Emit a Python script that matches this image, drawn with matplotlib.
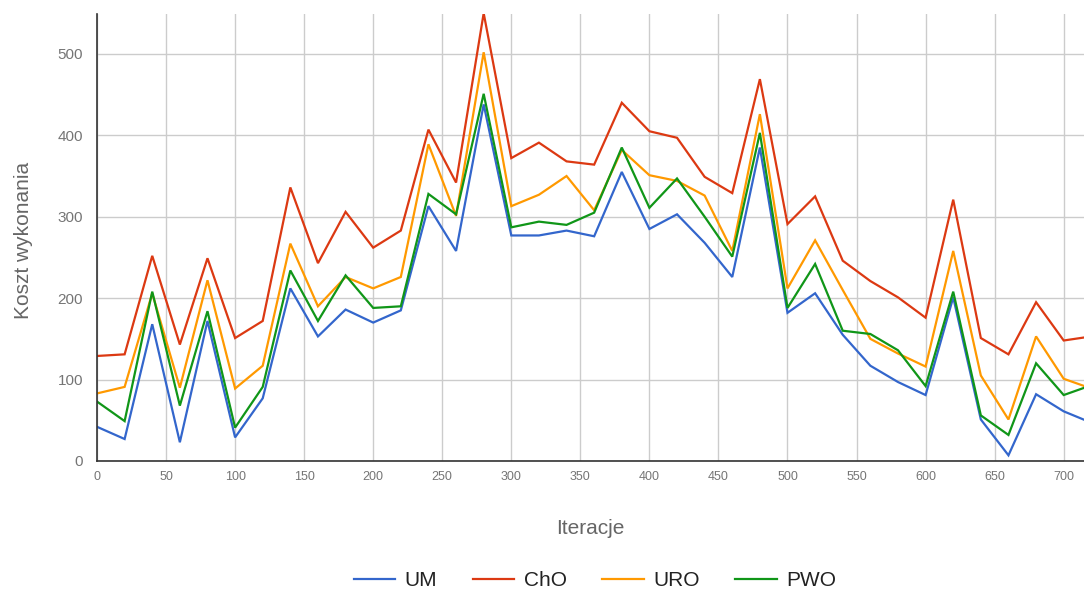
import matplotlib
matplotlib.use("Agg")
import matplotlib.pyplot as plt

plt.rcParams['font.family'] = ['Liberation Sans', 'DejaVu Sans']

iterations = list(range(0, 721, 20))

um = [42, 27, 168, 23, 172, 29, 77, 212, 153, 186, 170, 185, 313,
      258, 438, 277, 277, 283, 276, 355, 285, 303, 268, 226, 385,
      182, 206, 155, 117, 97, 81, 201, 51, 7, 82, 61, 47]
cho = [129, 131, 252, 143, 249, 151, 172, 336, 243, 306, 262, 283, 407,
       342, 550, 372, 391, 368, 364, 440, 405, 397, 349, 329, 469,
       291, 325, 246, 221, 201, 176, 321, 151, 131, 195, 148, 153]
uro = [83, 91, 206, 90, 222, 89, 117, 267, 190, 226, 212, 226, 389,
       301, 502, 313, 327, 350, 308, 382, 351, 344, 326, 258, 426,
       212, 271, 210, 150, 132, 116, 258, 105, 51, 153, 101, 89]
pwo = [73, 49, 208, 68, 184, 41, 91, 234, 172, 228, 188, 190, 328,
       303, 451, 287, 294, 290, 305, 385, 311, 347, 300, 251, 403,
       188, 242, 160, 156, 136, 92, 208, 56, 32, 120, 81, 93]

series = [("UM", um, "#3366cc"), ("ChO", cho, "#dc3912"),
          ("URO", uro, "#ff9900"), ("PWO", pwo, "#109618")]

x_ticks = list(range(0, 701, 50))
y_ticks = list(range(0, 501, 100))

W, H = 1084, 590
fig = plt.figure(figsize=(W / 100, H / 100), dpi=100)
ax = fig.add_axes([97 / W, 129 / H, 987 / W, 447 / H])

for name, values, color in series:
    ax.plot(iterations, values, color=color, linewidth=1.6, label=name,
            solid_joinstyle='miter')

ax.set_xlim(0, 714.7)
ax.set_ylim(0, 549)
ax.set_xticks(x_ticks)
ax.set_yticks(y_ticks)
ax.grid(True, color="#cccccc", linewidth=1.0)
ax.set_axisbelow(True)

for side in ("top", "right"):
    ax.spines[side].set_visible(False)
for side in ("left", "bottom"):
    ax.spines[side].set_color("#333333")
    ax.spines[side].set_linewidth(1.2)

ax.tick_params(axis='both', length=0)
ax.tick_params(axis='x', labelsize=9, colors="#757575", pad=7)
ax.tick_params(axis='y', labelsize=11, colors="#757575", pad=10)

ax.set_xlabel("Iteracje", fontsize=15, color="#666666")
ax.xaxis.set_label_coords((590 - 97) / 987, (461 - 528) / 447)
ax.xaxis.label.set_verticalalignment('center')
ax.xaxis.label.set_horizontalalignment('center')

ax.set_ylabel("Koszt wykonania", fontsize=15, color="#666666")
ax.yaxis.set_label_coords((24 - 97) / 987, (461 - 240) / 447)
ax.yaxis.label.set_verticalalignment('center')

fig.legend(loc='center', bbox_to_anchor=(595 / W, 9.5 / H), ncol=4,
           frameon=False, fontsize=15, handlelength=2.0,
           columnspacing=1.7, handletextpad=0.45, labelcolor="#222222")

fig.savefig("out.png", dpi=100)
